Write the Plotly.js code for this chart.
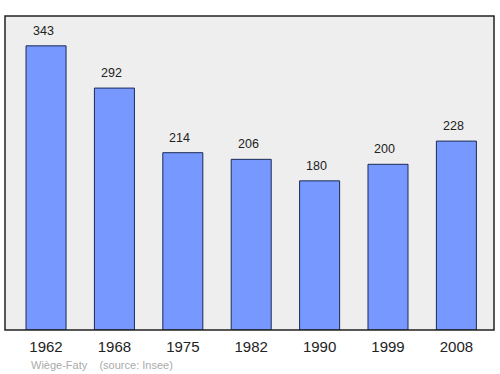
<!DOCTYPE html>
<html><head><meta charset="utf-8">
<script src="https://cdn.plot.ly/plotly-3.0.1.min.js"></script>
<style>body{margin:0;padding:0;}#c{width:500px;height:374px;}</style>
</head><body><div id="c"></div>
<script>
const years = ["1962","1968","1975","1982","1990","1999","2008"];
const population = [343,292,214,206,180,200,228];
const footerName = "Wiège-Faty";
const footerSource = "(source: Insee)";

const trace = {
  type: "bar",
  x: years,
  y: population,
  width: 0.585,
  marker: {color: "#7799ff", line: {color: "#1a2a55", width: 1}},
  textposition: "none",
  hoverinfo: "none"
};
const annotations = years.map((yr, i) => ({
  x: i, y: population[i], xref: "x", yref: "y",
  text: String(population[i]), showarrow: false,
  yanchor: "bottom", yshift: 6, xshift: -3,
  font: {family: "Liberation Sans, Arial, sans-serif", size: 12.5, color: "#222222"}
}));
annotations.push({
  xref: "paper", yref: "paper", x: 24/489, y: -0.085,
  xanchor: "left", yanchor: "top", showarrow: false,
  text: footerName + "&nbsp;&nbsp;&nbsp;&nbsp;" + footerSource,
  font: {family: "Liberation Sans, Arial, sans-serif", size: 11, color: "#aaaaaa"}
});
const layout = {
  width: 500, height: 374,
  margin: {l: 5, r: 6, t: 16, b: 44},
  paper_bgcolor: "#ffffff",
  plot_bgcolor: "#eeeeee",
  showlegend: false,
  xaxis: {
    type: "category", range: [-0.6, 6.55],
    showgrid: false, zeroline: false, showline: false,
    ticks: "", ticklabelstandoff: 6,
    tickfont: {family: "Liberation Sans, Arial, sans-serif", size: 15, color: "#222222"},
    fixedrange: true
  },
  yaxis: {
    range: [0, 379], showgrid: false, zeroline: false, showline: false,
    showticklabels: false, ticks: "", fixedrange: true
  },
  shapes: [{
    type: "rect", xref: "paper", yref: "paper", x0: 0, x1: 1, y0: 0, y1: 1,
    line: {color: "#222222", width: 1.5}, fillcolor: "rgba(0,0,0,0)", layer: "above"
  }],
  annotations: annotations
};
Plotly.newPlot("c", [trace], layout, {displayModeBar: false, staticPlot: true});
</script></body></html>
